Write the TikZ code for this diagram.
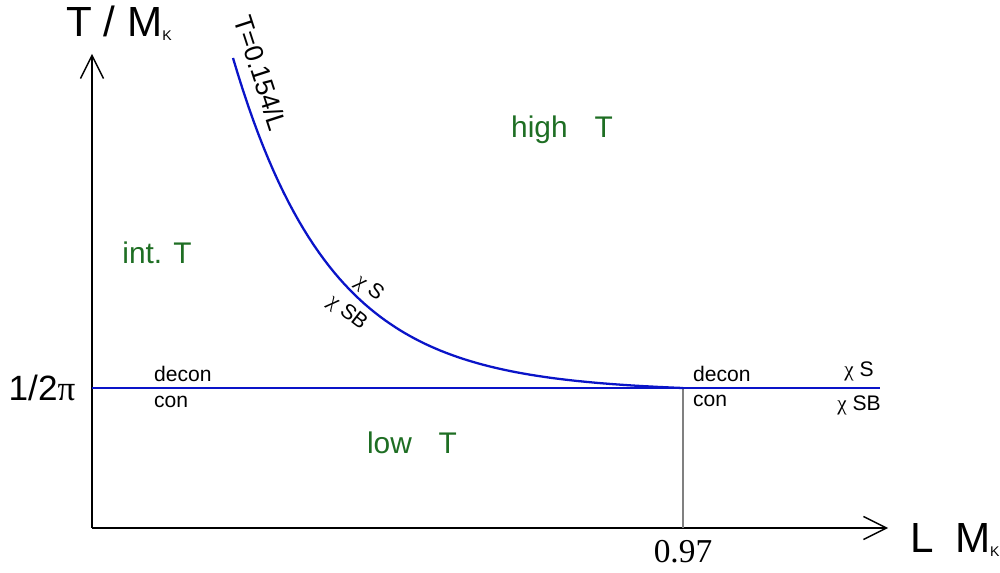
\documentclass[tikz,border=0pt]{standalone}
\usepackage{fontspec}
\setmainfont{Liberation Sans}
\newfontfamily\timesfont{Liberation Serif}
\usetikzlibrary{arrows.meta,positioning}
\definecolor{lineBlue}{HTML}{0A14C8}
\definecolor{regionGreen}{HTML}{1E6E23}
\definecolor{tickGray}{HTML}{808080}
\newcommand{\chiup}{{\timesfont χ}}

\begin{document}
\begin{tikzpicture}[x=0.02cm,y=-0.02cm,
  axis/.style={line width=0.8pt,-{Straight Barb[length=4.6mm,width=4.6mm,line width=0.8pt]}},
  phase/.style={draw=lineBlue,line width=1.3pt},
  region/.style={text=regionGreen,font=\fontsize{17}{19}\selectfont},
  small/.style={font=\fontsize{12}{14}\selectfont,inner sep=1pt},
  big/.style={font=\fontsize{24}{28}\selectfont}
]
  \useasboundingbox (0,0) rectangle (1000,573);
  % axes
  \coordinate (origin) at (92,528);
  \coordinate (ytop) at (92,54);
  \coordinate (xend) at (888,528);
  \draw[axis] (origin) -- (ytop);
  \draw[axis] (origin) -- (xend);
  \node[big] (ylab) at (119,23) {T / M\raisebox{-0.1em}{\fontsize{8}{8}\selectfont K}};
  \node[big] (xlab) at (955,540) {L\hspace{0.5em}M\raisebox{-0.1em}{\fontsize{8}{8}\selectfont K}};
  % boundaries
  \coordinate (lstart) at (92,388);
  \coordinate (crit) at (683,388);
  \coordinate (lend) at (880,388);
  \coordinate (ctop) at (233,58);
  \coordinate (cfoot) at (683,528);
  \draw[tickGray,line width=1pt] (crit) -- (cfoot);
  \draw[phase] (lstart) -- (lend);
  \draw[phase] (ctop) -- plot[domain=233:683,samples=90]
    (\x,{388-330*exp(-(\x-233)/97)+3.2*(\x-233)/450}) -- (crit);
  \node[font=\fontsize{20}{24}\selectfont] (half) at (42,388) {1/2{\timesfont π}};
  \node[font=\fontsize{19}{22}\selectfont\timesfont] (crval) at (683,552) {0.97};
  % labels
  \node[font=\fontsize{15}{17}\selectfont,rotate=-72,inner sep=0pt] (curvelab) at (261,73) {T=0.154/L};
  \node[small,rotate=-38] (chiS1) at (369,288) {\chiup\ S};
  \node[small,rotate=-38] (chiSB1) at (347,313) {\chiup\ SB};
  \node[small,anchor=west] (decon1) at (152,374) {decon};
  \node[small,anchor=west] (con1) at (152,402) {con};
  \node[small,anchor=west] (decon2) at (691,374) {decon};
  \node[small,anchor=west] (con2) at (691,401) {con};
  \node[small] (chiS2) at (859,371) {\chiup\ S};
  \node[small] (chiSB2) at (859,405) {\chiup\ SB};
  \node[region] (high) at (562,130) {high\hspace{0.9em}T};
  \node[region] (inter) at (157,253) {int. T};
  \node[region] (low) at (412,443) {low\hspace{0.9em}T};
\end{tikzpicture}
\end{document}
